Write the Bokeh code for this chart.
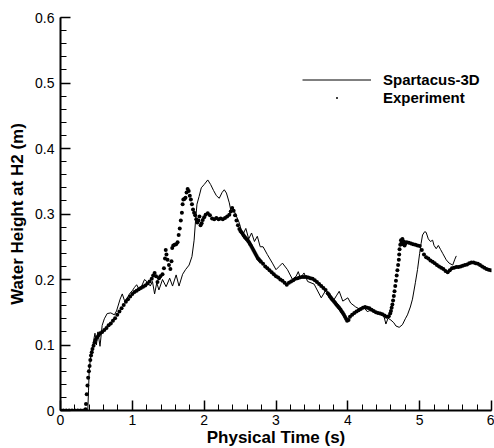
from bokeh.plotting import figure
from bokeh.models import Range1d, SingleIntervalTicker, Legend, LegendItem
from bokeh.embed import file_html
from bokeh.resources import INLINE

sim_time = [0.00, 0.38, 0.39, 0.40, 0.42, 0.45, 0.48, 0.50, 0.52, 0.55, 0.58, 0.61, 0.65, 0.70, 0.75,
            0.78, 0.83, 0.86, 0.89, 0.92, 0.96, 1.00, 1.03, 1.06, 1.09, 1.13, 1.17, 1.21, 1.25, 1.28,
            1.31, 1.34, 1.37, 1.42, 1.47, 1.52, 1.56, 1.61, 1.65, 1.70, 1.74, 1.79, 1.83, 1.86, 1.88,
            1.90, 1.93, 1.96, 2.00, 2.05, 2.09, 2.13, 2.17, 2.21, 2.25, 2.28, 2.31, 2.35, 2.37, 2.42,
            2.44, 2.49, 2.535, 2.58, 2.62, 2.66, 2.70, 2.74, 2.78, 2.82, 2.88, 2.95, 3.00, 3.045, 3.09,
            3.16, 3.23, 3.28, 3.31, 3.34, 3.39, 3.44, 3.53, 3.63, 3.695, 3.76, 3.80, 3.84, 3.88, 3.93,
            4.00, 4.04, 4.11, 4.18, 4.22, 4.27, 4.34, 4.40, 4.46, 4.50, 4.53, 4.56, 4.60, 4.64, 4.67,
            4.715, 4.76, 4.80, 4.83, 4.87, 4.90, 4.94, 4.97, 5.00, 5.02, 5.04, 5.07, 5.09, 5.12, 5.15,
            5.18, 5.20, 5.23, 5.26, 5.29, 5.32, 5.37, 5.41, 5.46, 5.49, 5.51]
sim_height = [0.0, 0.0, 0.03, 0.062, 0.082, 0.1, 0.118, 0.1, 0.12, 0.098, 0.13, 0.14, 0.148, 0.149, 0.146,
              0.152, 0.17, 0.178, 0.168, 0.17, 0.178, 0.183, 0.188, 0.192, 0.186, 0.19, 0.2, 0.196, 0.19, 0.197,
              0.178, 0.195, 0.184, 0.2, 0.189, 0.202, 0.19, 0.207, 0.19, 0.208, 0.215, 0.222, 0.235, 0.26, 0.29,
              0.315, 0.327, 0.34, 0.345, 0.352, 0.345, 0.336, 0.328, 0.324, 0.333, 0.337, 0.332, 0.317, 0.306, 0.304,
              0.299, 0.286, 0.268, 0.278, 0.262, 0.271, 0.258, 0.266, 0.25, 0.25, 0.238, 0.225, 0.215, 0.22, 0.225,
              0.215, 0.2, 0.205, 0.212, 0.202, 0.21, 0.197, 0.193, 0.172, 0.184, 0.176, 0.168, 0.175, 0.182, 0.167,
              0.172, 0.164, 0.158, 0.154, 0.158, 0.151, 0.154, 0.15, 0.149, 0.145, 0.132, 0.141, 0.138, 0.134, 0.129,
              0.127, 0.131, 0.14, 0.146, 0.158, 0.17, 0.195, 0.215, 0.24, 0.255, 0.268, 0.273, 0.272, 0.262, 0.258,
              0.26, 0.252, 0.247, 0.252, 0.246, 0.24, 0.23, 0.225, 0.222, 0.231, 0.236]

exp_time = [0.00, 0.04, 0.08, 0.12, 0.16, 0.20, 0.24, 0.28, 0.32, 0.35, 0.355, 0.365, 0.375, 0.385, 0.395,
            0.405, 0.415, 0.425, 0.435, 0.445, 0.46, 0.475, 0.49, 0.51, 0.53, 0.55, 0.58, 0.61, 0.64, 0.67,
            0.70, 0.73, 0.76, 0.79, 0.82, 0.85, 0.88, 0.91, 0.94, 0.97, 1.00, 1.03, 1.06, 1.09, 1.12,
            1.15, 1.18, 1.21, 1.24, 1.27, 1.29, 1.31, 1.33, 1.35, 1.37, 1.39, 1.42, 1.44, 1.455, 1.465,
            1.475, 1.49, 1.51, 1.53, 1.545, 1.555, 1.57, 1.59, 1.61, 1.63, 1.645, 1.66, 1.675, 1.69, 1.70,
            1.71, 1.725, 1.74, 1.755, 1.77, 1.785, 1.80, 1.815, 1.83, 1.845, 1.86, 1.875, 1.89, 1.905, 1.92,
            1.935, 1.95, 1.965, 1.98, 2.00, 2.02, 2.05, 2.08, 2.11, 2.14, 2.17, 2.20, 2.23, 2.26, 2.29,
            2.32, 2.35, 2.37, 2.39, 2.41, 2.43, 2.45, 2.47, 2.49, 2.505, 2.52, 2.535, 2.55, 2.565, 2.58,
            2.595, 2.61, 2.625, 2.64, 2.655, 2.67, 2.685, 2.70, 2.715, 2.73, 2.745, 2.76, 2.775, 2.79, 2.82,
            2.85, 2.88, 2.91, 2.94, 2.97, 3.00, 3.03, 3.06, 3.09, 3.12,
            3.15, 3.18, 3.21, 3.24, 3.27, 3.30, 3.33, 3.36, 3.39, 3.42, 3.45, 3.48, 3.51, 3.54, 3.57,
            3.60, 3.63, 3.66, 3.69, 3.72, 3.735, 3.75, 3.765, 3.78, 3.795, 3.81, 3.825, 3.84, 3.855, 3.87,
            3.885, 3.90, 3.915, 3.93, 3.945, 3.96, 3.975, 3.99, 4.01,
            4.03, 4.06, 4.09, 4.12, 4.15, 4.18, 4.21, 4.24, 4.27, 4.30, 4.33, 4.36, 4.39, 4.42, 4.45,
            4.48, 4.51, 4.54, 4.57, 4.59, 4.60, 4.61, 4.62, 4.63, 4.64, 4.65, 4.66, 4.67, 4.68, 4.69,
            4.70, 4.71, 4.715, 4.72, 4.73, 4.74, 4.75, 4.76, 4.77, 4.78, 4.79, 4.80, 4.82, 4.85, 4.88,
            4.91, 4.94, 4.97, 5.00, 5.03, 5.06, 5.09, 5.12, 5.15, 5.18, 5.21, 5.24, 5.27, 5.30, 5.33,
            5.36, 5.39, 5.42, 5.45, 5.48, 5.51, 5.54, 5.57, 5.60, 5.63, 5.66, 5.69, 5.72, 5.75, 5.78,
            5.81, 5.84, 5.87, 5.90, 5.93, 5.96, 5.99]
exp_height = [0.0, 0.0, 0.0, 0.0, 0.0, 0.0, 0.0, 0.0, 0.0, 0.002, 0.01, 0.025, 0.038, 0.05, 0.06,
              0.068, 0.077, 0.084, 0.089, 0.094, 0.099, 0.104, 0.108, 0.112, 0.115, 0.118, 0.12, 0.123, 0.126, 0.13,
              0.133, 0.137, 0.141, 0.146, 0.151, 0.156, 0.161, 0.166, 0.17, 0.174, 0.178, 0.181, 0.183, 0.185, 0.187,
              0.189, 0.191, 0.194, 0.197, 0.201, 0.206, 0.21, 0.205, 0.196, 0.202, 0.205, 0.208, 0.217, 0.232, 0.245,
              0.238, 0.23, 0.222, 0.216, 0.228, 0.248, 0.252, 0.253, 0.254, 0.257, 0.268, 0.278, 0.29, 0.302, 0.315,
              0.322, 0.323, 0.325, 0.333, 0.338, 0.335, 0.328, 0.322, 0.315, 0.307, 0.302, 0.298, 0.292, 0.287, 0.29,
              0.296, 0.283, 0.286, 0.291, 0.295, 0.299, 0.301, 0.298, 0.293, 0.292, 0.294, 0.292, 0.293, 0.292, 0.294,
              0.296, 0.299, 0.304, 0.309, 0.305, 0.298, 0.29, 0.283, 0.277, 0.274, 0.272, 0.27, 0.267, 0.265, 0.263,
              0.261, 0.259, 0.257, 0.254, 0.251, 0.248, 0.245, 0.242, 0.239, 0.236, 0.233, 0.231, 0.229, 0.227, 0.224,
              0.22, 0.217, 0.214, 0.211, 0.208, 0.205, 0.203, 0.2, 0.198, 0.195,
              0.192, 0.195, 0.197, 0.199, 0.201, 0.202, 0.203, 0.204, 0.204, 0.204, 0.203, 0.202, 0.201, 0.199, 0.196,
              0.193, 0.19, 0.187, 0.184, 0.179, 0.177, 0.174, 0.172, 0.17, 0.168, 0.166, 0.164, 0.162, 0.16, 0.158,
              0.156, 0.154, 0.151, 0.149, 0.146, 0.143, 0.14, 0.137, 0.138,
              0.143, 0.146, 0.149, 0.151, 0.153, 0.155, 0.157, 0.158, 0.157, 0.156, 0.154, 0.152, 0.15, 0.149, 0.148,
              0.147, 0.145, 0.143, 0.144, 0.148, 0.152, 0.157, 0.162, 0.168, 0.175, 0.182, 0.19, 0.198, 0.206, 0.214,
              0.222, 0.23, 0.238, 0.246, 0.253, 0.26, 0.257, 0.262, 0.254, 0.258, 0.252, 0.255, 0.257, 0.256, 0.255,
              0.254, 0.253, 0.252, 0.251, 0.245, 0.238, 0.234, 0.232, 0.229, 0.227, 0.225, 0.222, 0.22, 0.218, 0.216,
              0.213, 0.211, 0.214, 0.217, 0.218, 0.219, 0.219, 0.22, 0.221, 0.222, 0.223, 0.225, 0.226, 0.226, 0.225,
              0.224, 0.222, 0.22, 0.218, 0.216, 0.215, 0.214]

x_ticks_step = 1
y_ticks_step = 0.1

p = figure(frame_width=431, frame_height=393, min_border_left=60, min_border_right=3,
           min_border_top=17, min_border_bottom=38,
           x_range=Range1d(0, 6), y_range=Range1d(0, 0.6000001),
           output_backend="svg", toolbar_location=None, x_axis_location="below")
p.outline_line_color = None
p.grid.visible = False
p.background_fill_color = "white"
p.border_fill_color = "white"

r_sim = p.line(sim_time, sim_height, line_color="black", line_width=1)
r_exp = p.scatter(exp_time, exp_height, marker="circle", size=4.0, fill_color="black", line_color=None)

for ax in (p.xaxis[0], p.yaxis[0]):
    ax.axis_line_width = 2
    ax.axis_line_color = "black"
    ax.major_tick_in = 10
    ax.major_tick_out = 0
    ax.minor_tick_in = 6
    ax.minor_tick_out = 0
    ax.major_tick_line_width = 1.5
    ax.minor_tick_line_width = 1
    ax.major_tick_line_color = "black"
    ax.minor_tick_line_color = "black"
    ax.major_label_text_font = "Liberation Sans"
    ax.major_label_text_font_size = "14px"
    ax.major_label_text_color = "black"
    ax.axis_label_text_font = "Liberation Sans"
    ax.axis_label_text_font_style = "bold"
    ax.axis_label_text_font_size = "17px"
    ax.axis_label_text_color = "black"

p.xaxis.ticker = SingleIntervalTicker(interval=x_ticks_step, num_minor_ticks=5)
p.yaxis.ticker = SingleIntervalTicker(interval=y_ticks_step, num_minor_ticks=5)
p.yaxis.major_label_overrides = {0: "0"}
p.xaxis.axis_label = "Physical Time (s)"
p.yaxis.axis_label = "Water Height at H2 (m)"
p.xaxis.major_label_standoff = 4
p.xaxis.axis_label_standoff = 0
p.yaxis.major_label_standoff = 6
p.yaxis.axis_label_standoff = 5

legend = Legend(items=[LegendItem(label="Spartacus-3D", renderers=[r_sim]),
                       LegendItem(label="Experiment", renderers=[r_exp])],
                location=(242, 304), padding=0, margin=0, spacing=1,
                glyph_width=69, glyph_height=5, label_height=17, label_standoff=12,
                border_line_color=None, background_fill_alpha=0,
                label_text_font="Liberation Sans", label_text_font_style="bold",
                label_text_font_size="15px", label_text_color="black")
p.add_layout(legend, "center")

open("out.html", "w").write(file_html(p, INLINE))
